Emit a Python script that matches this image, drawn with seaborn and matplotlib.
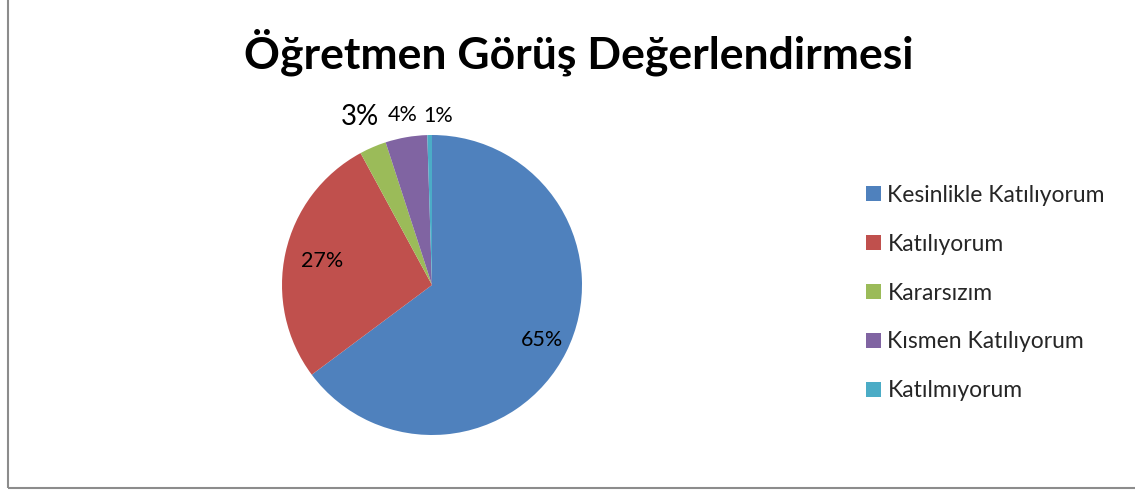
import matplotlib
matplotlib.use("Agg")
import matplotlib.pyplot as plt
import matplotlib.patches as mpatches
import numpy as np
import seaborn as sns

# data
categories = ["Kesinlikle Katılıyorum", "Katılıyorum", "Kararsızım",
              "Kısmen Katılıyorum", "Katılmıyorum"]
shares = [64.8, 27.3, 2.9, 4.5, 0.5]
pct_labels = ["65%", "27%", "3%", "4%", "1%"]
title = "Öğretmen Görüş Değerlendirmesi"

sns.set_theme(style="white")
plt.rcParams['font.family'] = ['Lato', 'DejaVu Sans']
colors = sns.color_palette(["#4F81BD", "#C0504D", "#9BBB59", "#8064A2", "#4BACC6"])

fig = plt.figure(figsize=(11.35, 4.92), dpi=100)
W, H = 1135, 492
ax = fig.add_axes([(432 - 150) / W, (492 - 285 - 150) / H, 300 / W, 300 / H])

wedges, _ = ax.pie(shares, colors=colors, startangle=90, counterclock=False,
                   wedgeprops=dict(linewidth=0))
ax.set_xlim(-1, 1)
ax.set_ylim(-1, 1)
ax.set_aspect("equal")
ax.axis("off")

# label radius / angle nudge / size per slice (small ones sit outside the pie)
label_r = [0.82, 0.75, 1.22, 1.15, 1.13]
label_dang = [0, 0, 0, 0, -3]
label_fs = [15.5, 15.5, 20, 15.5, 15.5]
for w, txt, r, da, fs in zip(wedges, pct_labels, label_r, label_dang, label_fs):
    ang = np.deg2rad((w.theta1 + w.theta2) / 2 + da)
    ax.text(r * np.cos(ang), r * np.sin(ang), txt, ha="center", va="center",
            fontsize=fs, color="black")

fig.text(579 / W, 1 - 52 / H, title, ha="center", va="center",
         fontsize=32, fontweight="bold", color="black")

fig.legend(wedges, categories, loc="upper left",
           bbox_to_anchor=(845 / W, 1 - 164 / H), frameon=False,
           fontsize=16.5, handlelength=0.65, handleheight=0.65,
           handletextpad=0.3, labelspacing=1.22)

# chart border (left and bottom visible)
border = mpatches.Rectangle((8 / W, 4 / H), 1.2, 1.2, transform=fig.transFigure,
                            fill=False, edgecolor="#8c8c8c", linewidth=1.5)
fig.patches.append(border)

fig.savefig("out.png", dpi=100)
